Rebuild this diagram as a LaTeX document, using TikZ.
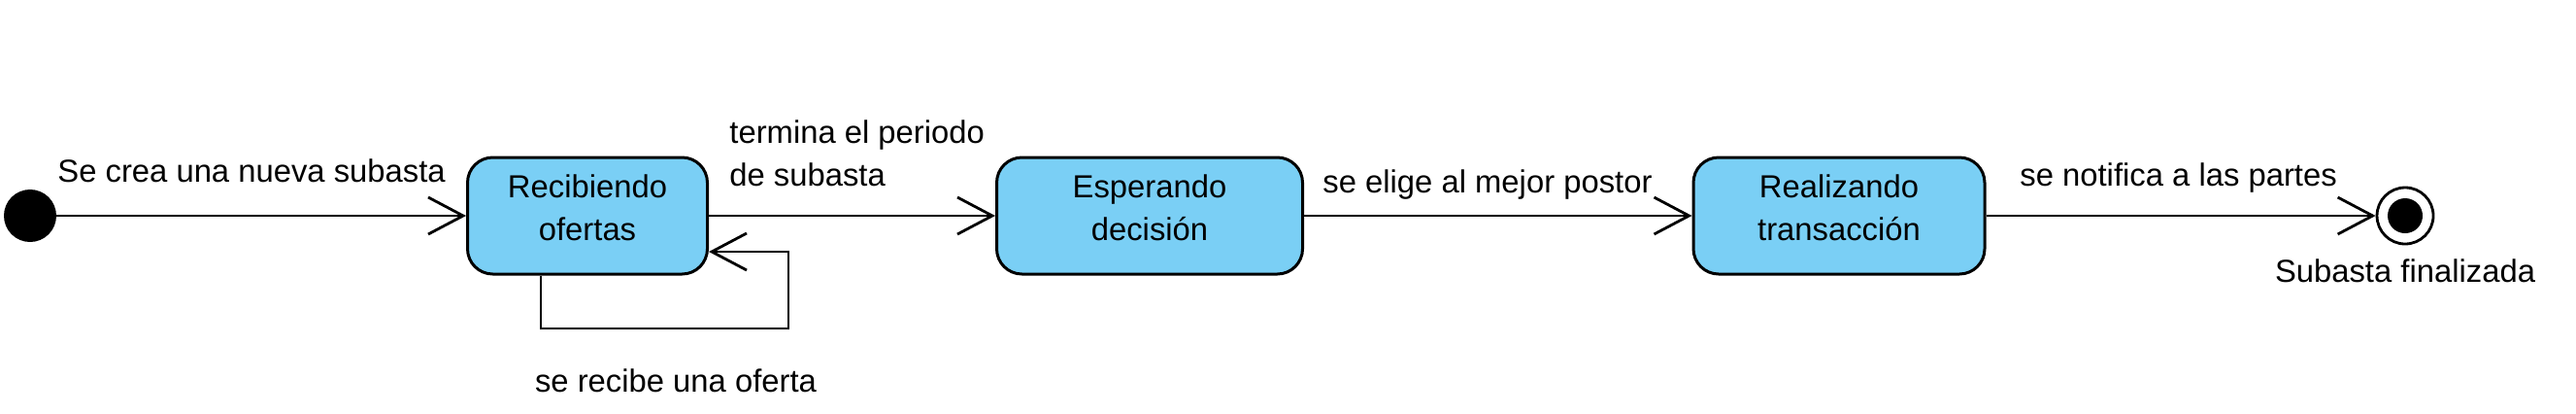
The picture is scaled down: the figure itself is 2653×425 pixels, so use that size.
\documentclass[tikz,border=0pt]{standalone}
\usepackage{fontspec}
\setmainfont{Liberation Sans}
\usetikzlibrary{positioning}
\usetikzlibrary{arrows.meta}
\definecolor{stateblue}{RGB}{122,207,245}

\begin{document}
\begin{tikzpicture}[x=0.5pt, y=-0.5pt,
    font=\fontsize{16.4}{22}\selectfont,
    state/.style={draw, line width=1.5pt, rounded corners=13pt, fill=stateblue, align=center, minimum height=60pt},
    trans/.style={line width=1.4pt, -{Straight Barb[length=18pt, width=19pt]}},
    lbl/.style={align=left, inner sep=0pt}]
    \useasboundingbox (0,0) rectangle (2653,425);

    \node[circle, fill=black, minimum size=27pt, inner sep=0pt] (init) at (31, 222) {};
    \node[state, minimum width=123.5pt] (rec) at (605, 222) {Recibiendo\\ofertas\\[-14pt]};
    \node[state, minimum width=157.5pt] (esp) at (1184, 222) {Esperando\\decisión\\[-14pt]};
    \node[state, minimum width=150pt] (real) at (1894, 222) {Realizando\\transacción\\[-14pt]};
    \node[circle, draw, line width=1.4pt, fill=white, minimum size=29pt, inner sep=0pt] (fin) at (2477, 222) {};
    \node[circle, fill=black, minimum size=18pt, inner sep=0pt] (finin) at (fin) {};
    \node[below=7pt of fin, inner sep=0pt] (lfin) {Subasta finalizada};

    \draw[trans] (init) -- (rec);
    \draw[trans] (rec) -- (esp);
    \draw[trans] (esp) -- (real);
    \draw[trans] (real) -- (fin);

    % self transition
    \coordinate (loop) at (812, 338);
    \draw[trans] ([xshift=-24pt]rec.south) |- (loop) |- ([yshift=-18.5pt]rec.east);

    % transition labels
    \node[lbl, anchor=west] (lcrea) at (59, 176) {Se crea una nueva subasta};
    \node[lbl, anchor=west] (lterm) at (751, 158) {termina el periodo\\de subasta};
    \node[lbl, anchor=west] (lelige) at (1362, 190) {se elige al mejor postor};
    \node[lbl, anchor=west] (lnotif) at (2080, 183) {se notifica a las partes};
    \node[lbl] (lrecibe) at (696, 392) {se recibe una oferta};
\end{tikzpicture}
\end{document}
